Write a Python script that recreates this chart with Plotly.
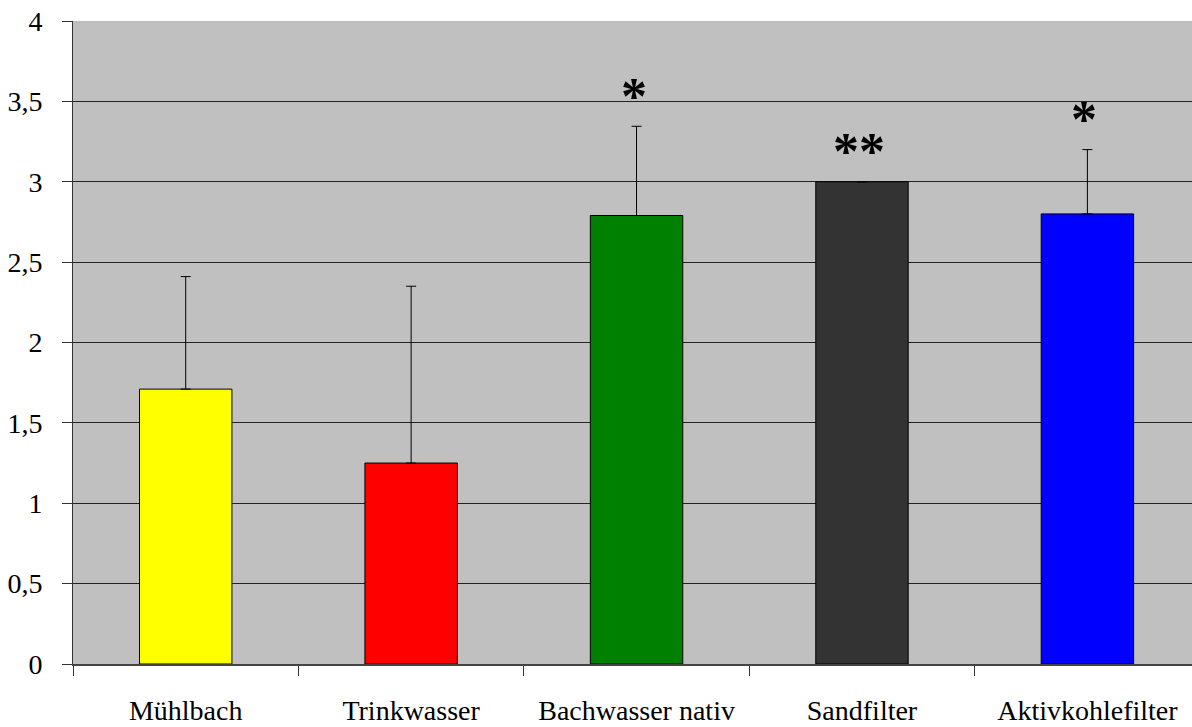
import plotly.graph_objects as go

categories = ["Mühlbach", "Trinkwasser", "Bachwasser nativ", "Sandfilter", "Aktivkohlefilter"]
values = [1.71, 1.25, 2.79, 3.0, 2.80]
errors_plus = [0.70, 1.10, 0.555, 0.0, 0.40]
colors = ["#FFFF00", "#FF0000", "#008000", "#333333", "#0000FF"]
significance = ["", "", "*", "**", "*"]
y_ticks = [0, 0.5, 1, 1.5, 2, 2.5, 3, 3.5, 4]
y_tick_labels = ["0", "0,5", "1", "1,5", "2", "2,5", "3", "3,5", "4"]

FONT = "Liberation Serif, Times New Roman, serif"

fig = go.Figure()
fig.add_trace(go.Bar(
    x=categories,
    y=values,
    width=0.41,
    marker=dict(color=colors, line=dict(color="#000000", width=1)),
    error_y=dict(type="data", symmetric=False, array=errors_plus,
                 arrayminus=[0] * len(values), color="#000000",
                 thickness=1, width=5),
    showlegend=False,
))

for cat, v, e, s in zip(categories, values, errors_plus, significance):
    if s:
        fig.add_annotation(x=cat, y=v + e + 0.235, text="<b>" + s + "</b>", showarrow=False,
                           xshift=-3, yshift=-8,
                           font=dict(family=FONT, size=52, color="#000000"),
                           yanchor="middle")

fig.update_layout(
    width=1192, height=727,
    margin=dict(l=73, r=0, t=21, b=63),
    paper_bgcolor="#FFFFFF",
    plot_bgcolor="#C0C0C0",
    font=dict(family=FONT, size=28, color="#000000"),
)
fig.update_xaxes(
    type="category",
    range=[-0.5, 4.464],
    tickson="boundaries",
    ticks="outside", ticklen=10, tickcolor="#333333", tickwidth=1,
    showgrid=False,
    showline=True, linecolor="#444444", linewidth=2,
    ticklabelstandoff=20,
    tickfont=dict(family=FONT, size=28, color="#000000"),
)
fig.update_yaxes(
    range=[0, 4],
    tickvals=y_ticks, ticktext=y_tick_labels,
    ticks="outside", ticklen=10, tickcolor="#333333", tickwidth=1,
    showgrid=True, gridcolor="#222222", gridwidth=1,
    showline=True, linecolor="#333333", linewidth=1,
    zeroline=False,
    ticklabelstandoff=14,
    tickfont=dict(family=FONT, size=28, color="#000000"),
)

fig.write_html("out.html",
               config={"displayModeBar": False},
               post_script="document.body.style.margin='0';document.body.style.overflow='hidden';")
